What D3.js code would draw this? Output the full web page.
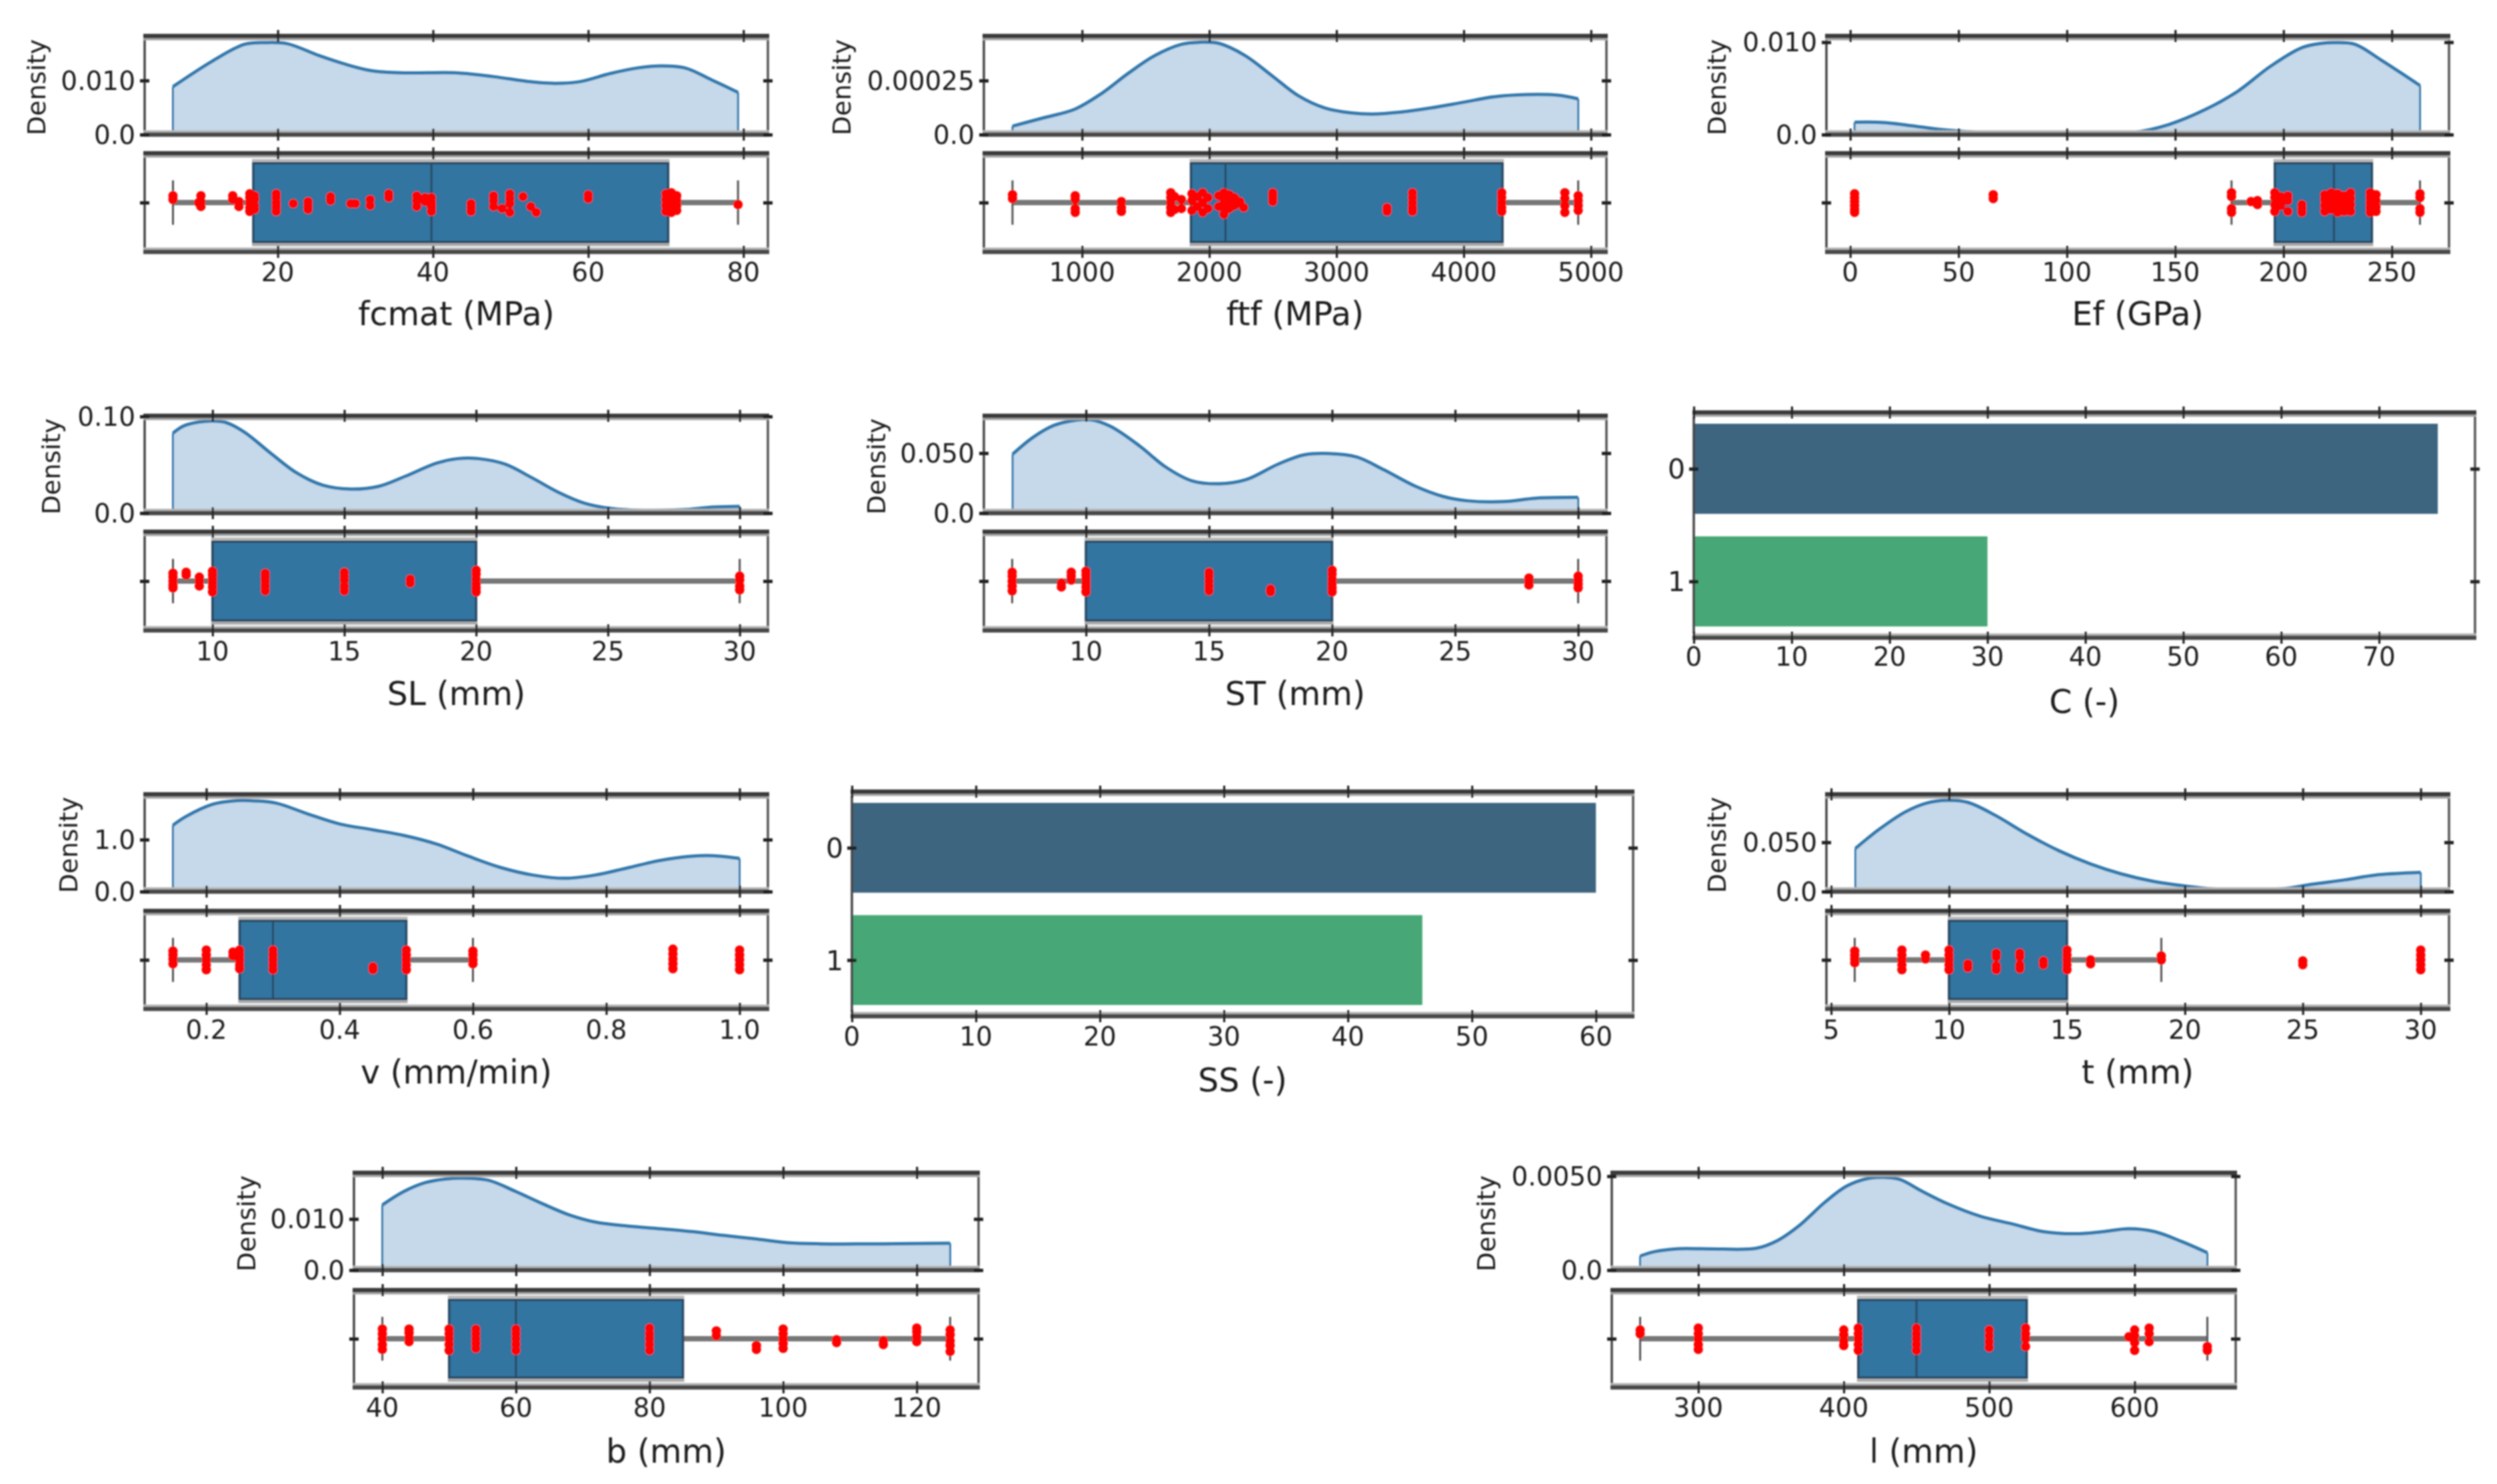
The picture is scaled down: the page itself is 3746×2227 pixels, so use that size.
<!DOCTYPE html>
<html>
<head>
<meta charset="utf-8">
<script src="https://cdn.jsdelivr.net/npm/d3@7"></script>
<style>
    body { margin: 0; background: #fff; }
    text { font-family: "DejaVu Sans", sans-serif; fill: #1f1f1f; }
</style>
</head>
<body>
<svg id="graph"></svg>
<script>
// fcmat
const fcmatKdeX = [6.5, 11.6, 15.7, 18.4, 21.2, 25.3, 28.7, 32.1, 36.2, 43.1, 47.8, 52.6, 55.4, 58.8, 62.9, 66.3, 69.4, 72.5, 75.9, 79.3];
const fcmatKdeY = [.00885, .0136, .01667, .0170, .0168, .0146, .0130, .0118, .0114, .0114, .0107, .00975, .00947, .00975, .0113, .0123, .0127, .0123, .0101, .0078];
const fcmatValues = [6.5, 6.5, 10.1, 10.1, 10.1, 9.8, 14.2, 14.2, 15, 15, 16.4, 16.4, 16.4, 16.4, 16.4, 17, 17, 17, 17, 19.8, 19.8, 19.8, 19.8, 19.8, 22, 23.9, 23.9, 23.9, 26.8, 26.8, 29.4, 30, 31.9, 31.9, 34.3, 34.3, 37.9, 37.9, 37.9, 39, 39, 39.8, 39.8, 39.8, 39.8, 44.9, 44.9, 44.9, 47.8, 47.8, 47.8, 48.9, 49.9, 49.9, 49.9, 49.9, 51.6, 52.6, 53.3, 60, 60, 70, 70, 70, 70, 70.7, 70.7, 70.7, 70.7, 70.7, 71.4, 71.4, 71.4, 71.4, 79.3];
const fcmatJitter = [-.07, -.03, -.07, -.01, .04, .0, -.07, -.03, -.01, .04, -.09, -.05, 0, .05, .09, -.07, -.03, .03, .07, -.09, -.05, 0, .04, .09, .01, -.01, .03, .07, -.06, -.02, .01, .01, -.03, .03, -.09, -.05, -.07, -.02, .04, -.05, -.01, -.05, 0, .04, .09, .01, .05, .09, -.07, -.02, .04, .06, -.09, -.04, .01, .1, -.06, .04, .1, -.08, -.04, -.09, -.03, .03, .09, -.1, -.05, 0, .05, .1, -.07, -.02, .03, .08, .02];
const fcmatBox = [6.5, 16.85, 39.8, 70.3, 79.3];
const fcmatXDomain = [2.85, 83.15];
const fcmatYDomain = [0, .01823];
const fcmatTicks = [20, 40, 60, 80];
const fcmatYTicks = [0, .01];
const fcmatYLabels = ["0.0", "0.010"];

// ftf
const ftfKdeX = [453, 695, 946, 1154, 1363, 1572, 1781, 1927, 2073, 2282, 2491, 2699, 2908, 3117, 3284, 3493, 3743, 3994, 4244, 4495, 4745, 4900];
const ftfKdeY = [.000039, .000077, .000118, .00019, .000283, .000365, .000417, .000427, .000422, .000365, .000273, .00018, .000123, .0001, .000095, .000103, .000123, .000149, .000175, .000185, .000182, .000165];
const ftfValues = [453, 453, 946, 946, 946, 946, 1309, 1309, 1309, 1697, 1697, 1697, 1697, 1697, 1727, 1727, 1781, 1781, 1864, 1864, 1864, 1906, 1906, 1948, 1948, 1948, 1990, 1990, 2073, 2073, 2115, 2115, 2115, 2115, 2157, 2157, 2157, 2198, 2198, 2240, 2270, 2499, 2499, 2499, 2499, 3397, 3397, 3597, 3597, 3597, 3597, 3597, 4298, 4298, 4298, 4298, 4298, 4795, 4795, 4795, 4795, 4900, 4900, 4900, 4900];
const ftfJitter = [-.08, -.04, -.07, -.03, .06, .1, -.01, .05, .09, -.1, -.05, 0, .05, .1, -.06, .07, -.03, .06, -.09, -.02, .08, -.06, .04, -.1, 0, .1, -.05, .06, -.07, .04, -.1, -.03, .05, .12, -.08, 0, .06, -.05, .03, -.01, .05, -.1, -.07, -.04, -.01, .05, .09, -.1, -.05, 0, .05, .09, -.1, -.05, 0, .05, .09, -.1, -.04, .03, .1, -.07, -.02, .03, .08];
const ftfBox = [453, 1856, 2127, 4305, 4900];
const ftfXDomain = [228, 5122];
const ftfYDomain = [0, .000456];
const ftfTicks = [1000, 2000, 3000, 4000, 5000];
const ftfYTicks = [0, .00025];
const ftfYLabels = ["0.0", "0.00025"];

// Ef
const efKdeX = [2, 15.4, 30, 44.7, 61.8, 86, 110.7, 130, 147, 164.5, 179, 193.8, 208.5, 218, 224.3, 233, 245, 263];
const efKdeY = [.00133, .0013, .0009, .00048, .0002, .00007, .00007, .0002, .00108, .00277, .0047, .00735, .0094, .00988, .00995, .00976, .00807, .0053];
const efValues = [2, 2, 2, 2, 2, 2, 66, 66, 176, 176, 176, 176, 185, 188, 188, 196, 196, 196, 196, 198.7, 198.7, 198.7, 202, 202, 202, 208.5, 208.5, 208.5, 219, 219, 219, 219, 222, 222, 222, 222, 225, 225, 225, 225, 228, 228, 228, 228, 231, 231, 231, 231, 240, 240, 240, 240, 240, 242.7, 242.7, 242.7, 242.7, 263, 263, 263, 263];
const efJitter = [-.09, -.05, -.01, .03, .07, .1, -.08, -.04, -.1, -.06, .06, .1, -.01, -.02, .02, -.1, -.05, .02, .09, -.06, -.02, .03, -.07, -.02, .09, .02, .06, .1, -.08, -.03, .03, .09, -.1, -.04, .02, .07, -.09, -.04, .03, .1, -.07, 0, .05, .09, -.1, -.04, .02, .09, -.1, -.05, 0, .05, .1, -.08, -.02, .04, .09, -.09, -.05, .06, .1];
const efBox = [176, 196, 223.3, 240.8, 263];
const efXDomain = [-11, 276.4];
const efYDomain = [0, .01067];
const efTicks = [0, 50, 100, 150, 200, 250];
const efYTicks = [0, .01];
const efYLabels = ["0.0", "0.010"];

// SL
const slKdeX = [8.5, 8.9, 9.5, 10, 10.5, 11.2, 12.2, 13.2, 14.2, 15.25, 16.3, 17.3, 18.5, 19.3, 20.1, 21.1, 22.1, 23.1, 24.1, 25.15, 26.2, 27.8, 29, 30];
const slKdeY = [.0828, .0901, .0943, .0954, .0938, .0839, .0621, .0414, .0287, .0248, .0276, .0379, .0517, .0563, .0563, .0506, .0368, .0218, .0103, .0046, .0028, .0034, .0062, .0069];
const slValues = [8.5, 8.5, 8.5, 8.5, 8.5, 9, 9, 9.5, 9.5, 9.5, 10, 10, 10, 10, 10, 10, 12, 12, 12, 12, 12, 15, 15, 15, 15, 15, 17.5, 17.5, 20, 20, 20, 20, 20, 20, 30, 30, 30, 30];
const slJitter = [-.08, -.04, 0, .04, .07, -.09, -.06, -.04, 0, .05, -.1, -.06, -.02, .02, .06, .11, -.08, -.04, 0, .05, .1, -.09, -.05, -.01, .05, .1, -.02, .02, -.11, -.07, -.02, .03, .07, .11, -.05, -.01, .05, .09];
const slBox = [8.5, 10, 10, 20, 30];
const slXDomain = [7.425, 31.07];
const slYDomain = [0, .1007];
const slTicks = [10, 15, 20, 25, 30];
const slYTicks = [0, .1];
const slYLabels = ["0.0", "0.10"];

// ST
const stKdeX = [7.02, 7.84, 8.7, 9.57, 10.2, 11, 12.2, 13.2, 14.3, 15.4, 16.5, 17.8, 18.85, 19.9, 21, 22.1, 23.4, 24.5, 25.5, 27, 28.3, 30];
const stKdeY = [.0491, .063, .0731, .0774, .0778, .0722, .0556, .0389, .0269, .0244, .0278, .0407, .0485, .0496, .0467, .0361, .0222, .0139, .0102, .0096, .0124, .013];
const stValues = [7, 7, 7, 7, 7, 9, 9, 9.4, 9.4, 9.4, 10, 10, 10, 10, 10, 10, 15, 15, 15, 15, 15, 17.5, 17.5, 20, 20, 20, 20, 20, 20, 28, 28, 28, 30, 30, 30, 30];
const stJitter = [-.09, -.05, 0, .05, .1, .02, .06, -.09, -.05, -.01, -.1, -.06, -.02, .02, .06, .11, -.09, -.05, 0, .05, .1, .08, .11, -.11, -.07, -.02, .03, .07, .11, -.03, 0, .04, -.05, -.01, .03, .07];
const stBox = [7, 10, 10, 20, 30];
const stXDomain = [5.85, 31.15];
const stYDomain = [0, .0811];
const stTicks = [10, 15, 20, 25, 30];
const stYTicks = [0, .05];
const stYLabels = ["0.0", "0.050"];

// C
const cCategories = ["0", "1"];
const cCounts = [76, 30];
const cXDomain = [0, 79.8];
const cTicks = [0, 10, 20, 30, 40, 50, 60, 70];

// v
const vKdeX = [.15, .17, .21, .24, .273, .305, .353, .40, .449, .497, .545, .593, .64, .689, .737, .784, .832, .88, .928, .96, 1.0];
const vKdeY = [1.277, 1.447, 1.68, 1.745, 1.745, 1.70, 1.49, 1.30, 1.19, 1.077, .915, .68, .468, .319, .255, .319, .455, .596, .68, .69, .638];
const vValues = [.15, .15, .15, .15, .2, .2, .2, .2, .2, .24, .24, .25, .25, .25, .25, .25, .3, .3, .3, .3, .3, .45, .45, .5, .5, .5, .5, .5, .6, .6, .6, .6, .9, .9, .9, .9, .9, 1, 1, 1, 1, 1];
const vJitter = [-.09, -.05, -.01, .04, -.1, -.05, 0, .05, .1, -.08, -.04, -.1, -.05, 0, .05, .09, -.1, -.05, 0, .05, .1, .07, .1, -.1, -.05, 0, .05, .1, -.09, -.05, 0, .04, -.11, -.06, -.01, .04, .09, -.1, -.05, 0, .05, .1];
const vBox = [.15, .25, .3, .5, .6];
const vXDomain = [.1075, 1.0425];
const vYDomain = [0, 1.872];
const vTicks = [.2, .4, .6, .8, 1];
const vYTicks = [0, 1];
const vYLabels = ["0.0", "1.0"];

// SS
const ssCategories = ["0", "1"];
const ssCounts = [60, 46];
const ssXDomain = [0, 63];
const ssTicks = [0, 10, 20, 30, 40, 50, 60];

// t
const tKdeX = [6.03, 7.02, 8.14, 9.04, 9.94, 10.8, 11.96, 13.3, 14.65, 16, 17.3, 18.7, 20, 21.4, 22.7, 24.1, 25.4, 26.8, 28.1, 30];
const tKdeY = [.0437, .0628, .0807, .0897, .0926, .0904, .0773, .0583, .0415, .028, .0179, .0101, .0056, .0022, .0016, .0027, .0074, .0119, .0168, .0195];
const tValues = [6, 6, 6, 6, 8, 8, 8, 8, 8, 9, 9, 10, 10, 10, 10, 10, 10.8, 10.8, 12, 12, 12, 12, 13, 13, 13, 13, 14, 14, 15, 15, 15, 15, 15, 16, 16, 19, 19, 25, 25, 30, 30, 30, 30, 30];
const tJitter = [-.09, -.05, -.01, .03, -.1, -.05, 0, .05, .1, -.05, -.01, -.1, -.05, 0, .05, .1, .04, .08, -.07, -.03, .06, .1, -.07, -.03, .05, .09, .01, .05, -.1, -.05, 0, .05, .1, 0, .04, -.04, 0, .01, .05, -.1, -.05, 0, .05, .1];
const tBox = [6, 10, 10, 15, 19];
const tXDomain = [4.8, 31.2];
const tYDomain = [0, .0987];
const tTicks = [5, 10, 15, 20, 25, 30];
const tYTicks = [0, .05];
const tYLabels = ["0.0", "0.050"];

// b
const bKdeX = [40, 43.2, 46.4, 49.6, 52.8, 56, 60, 64, 68, 72, 76.7, 81.5, 86.3, 91.1, 95.9, 100.7, 105.5, 115, 125];
const bKdeY = [.01274, .01535, .01709, .01783, .01796, .01752, .01535, .01296, .01078, .00935, .00861, .00809, .00752, .00678, .00609, .00535, .00513, .00513, .00526];
const bValues = [40, 40, 40, 40, 40, 44, 44, 44, 44, 50, 50, 50, 50, 50, 54, 54, 54, 54, 54, 60, 60, 60, 60, 60, 80, 80, 80, 80, 80, 90, 90, 96, 96, 100, 100, 100, 100, 100, 108, 108, 115, 115, 120, 120, 120, 120, 125, 125, 125, 125, 125];
const bJitter = [-.1, -.05, 0, .06, .11, -.1, -.06, -.01, .03, -.1, -.05, 0, .06, .12, -.1, -.05, 0, .05, .1, -.1, -.05, 0, .06, .12, -.11, -.05, 0, .06, .12, -.08, -.03, .07, .11, -.1, -.05, 0, .05, .1, .01, .04, .02, .06, -.11, -.07, -.02, .03, -.09, -.04, .02, .07, .13];
const bBox = [40, 50, 60, 85, 125];
const bXDomain = [35.75, 129.25];
const bYDomain = [0, .01904];
const bTicks = [40, 60, 80, 100, 120];
const bYTicks = [0, .01];
const bYLabels = ["0.0", "0.010"];

// l
const lKdeX = [260, 270, 285, 307, 340, 354.5, 369, 387.5, 402, 416.7, 427.7, 438.7, 453, 471.6, 493.6, 515.5, 537.5, 559.4, 577.7, 596, 614, 632.6, 650];
const lKdeY = [.000745, .00098, .00113, .00113, .00116, .00157, .00234, .00364, .00447, .00488, .00494, .00482, .00423, .00352, .00287, .00246, .00204, .00193, .00204, .0022, .00204, .00151, .00092];
const lValues = [260, 260, 300, 300, 300, 300, 300, 400, 400, 400, 400, 410, 410, 410, 410, 410, 450, 450, 450, 450, 450, 500, 500, 500, 500, 525, 525, 525, 525, 596, 600, 600, 600, 600, 610, 610, 610, 650, 650];
const lJitter = [-.09, -.05, -.11, -.05, 0, .06, .11, -.09, -.04, .02, .07, -.11, -.05, 0, .06, .12, -.11, -.05, 0, .06, .12, -.09, -.03, .03, .09, -.11, -.05, 0, .08, -.02, -.09, -.03, .04, .12, -.11, -.05, .03, .08, .12];
const lBox = [260, 410, 450, 525.8, 650];
const lXDomain = [240.5, 669.5];
const lYDomain = [0, .00518];
const lTicks = [300, 400, 500, 600];
const lYTicks = [0, .005];
const lYLabels = ["0.0", "0.0050"];

const svg = d3.select("#graph")
    .attr("width", 3746)
    .attr("height", 2227)
    .style("display", "block");

// the reference is a soft upscaled raster, a small blur keeps the strokes alike
svg.append("filter")
    .attr("id", "soft")
    .attr("filterUnits", "userSpaceOnUse")
    .attr("x", 0).attr("y", 0).attr("width", 3746).attr("height", 2227)
    .append("feGaussianBlur")
    .attr("stdDeviation", 1.1);

const root = svg.append("g").attr("filter", "url(#soft)");

// row tops: density panel, box panel, tick labels, x label
const rows = [
    { kdeTop: 54, kdeBottom: 202, boxTop: 230, boxBottom: 378, tickY: 408, labelY: 470 },
    { kdeTop: 624, kdeBottom: 770, boxTop: 798, boxBottom: 946, tickY: 977, labelY: 1040 },
    { kdeTop: 1192, kdeBottom: 1338, boxTop: 1367, boxBottom: 1514, tickY: 1545, labelY: 1608 },
    { kdeTop: 1760, kdeBottom: 1906, boxTop: 1936, boxBottom: 2082, tickY: 2112, labelY: 2177 }
];

const spine = (g, x1, y1, x2, y2, w, colour) => {
    g.append("line")
        .attr("x1", x1).attr("y1", y1).attr("x2", x2).attr("y2", y2)
        .attr("stroke", colour).attr("stroke-width", w);
};

// x ticks cross the spine, so both sides of the line are drawn
const xTicks = (g, x, y, ticks, orient) => {
    const axis = (orient === "top" ? d3.axisTop(x) : d3.axisBottom(x))
        .tickValues(ticks).tickSize(9).tickFormat("");
    const a = g.append("g").attr("transform", "translate(0," + y + ")").call(axis);
    a.select(".domain").remove();
    a.selectAll("line").attr("y1", -9).attr("y2", 9).attr("stroke", "#222").attr("stroke-width", 3.2);
};

const yTicks = (g, x, scale, ticks) => {
    const a = g.append("g").attr("transform", "translate(" + x + ",0)")
        .call(d3.axisLeft(scale).tickValues(ticks).tickSize(7).tickFormat(""));
    a.select(".domain").remove();
    a.selectAll("line").attr("x1", -7).attr("x2", 7).attr("stroke", "#222").attr("stroke-width", 5);
};

const frame = (g, left, right, top, bottom, x, ticks) => {
    spine(g, left, top, left, bottom, 3.5, "#444");
    spine(g, right, top, right, bottom, 3.5, "#555");
    spine(g, left - 2, top + 4, right + 2, top + 4, 5, "#a5a5a5");
    spine(g, left - 2, bottom - 4, right + 2, bottom - 4, 5, "#b5b5b5");
    spine(g, left - 2, top, right + 2, top, 6.5, "#3a3a3a");
    spine(g, left - 2, bottom, right + 2, bottom, 6.5, "#4a4a4a");
    xTicks(g, x, top, ticks, "top");
    xTicks(g, x, bottom, ticks, "bottom");
};

const tickLabels = (g, x, y, ticks, fmt) => {
    g.selectAll(null).data(ticks).enter().append("text")
        .attr("x", d => x(d))
        .attr("y", y)
        .attr("dy", "0.36em")
        .attr("text-anchor", "middle")
        .attr("font-size", 39)
        .text(fmt);
};

const xLabel = (g, x, y, t) => {
    g.append("text")
        .attr("x", x).attr("y", y).attr("dy", "0.36em")
        .attr("text-anchor", "middle")
        .attr("font-size", 49)
        .text(t);
};

const renderDist = p => {
    const r = rows[p.row];
    const g = root.append("g");
    const x = d3.scaleLinear().domain(p.xDomain).range([p.left, p.right]);
    const y = d3.scaleLinear().domain(p.yDomain).range([r.kdeBottom, r.kdeTop]);
    const points = p.kdeX.map((v, i) => [v, p.kdeY[i]]);

    // density panel
    g.append("path")
        .datum(points)
        .attr("fill", "#c5d9eb")
        .attr("d", d3.area().x(d => x(d[0])).y0(y(0)).y1(d => y(d[1])).curve(d3.curveCatmullRom));
    g.append("path")
        .datum(points)
        .attr("fill", "none")
        .attr("stroke", "#3079ad")
        .attr("stroke-width", 5)
        .attr("stroke-linejoin", "round")
        .attr("d", d3.line().x(d => x(d[0])).y(d => y(d[1])).curve(d3.curveCatmullRom));
    [points[0], points[points.length - 1]].forEach(d => {
        spine(g, x(d[0]), y(d[1]), x(d[0]), y(0), 3, "#3079ad");
    });
    frame(g, p.left, p.right, r.kdeTop, r.kdeBottom, x, p.ticks);
    yTicks(g, p.left, y, p.yTicks);
    yTicks(g, p.right, y, p.yTicks);

    g.selectAll(null).data(p.yTicks).enter().append("text")
        .attr("x", p.left - 14)
        .attr("y", d => y(d))
        .attr("dy", "0.36em")
        .attr("text-anchor", "end")
        .attr("font-size", 39)
        .text((d, i) => p.yLabels[i]);

    g.append("text")
        .attr("transform", "translate(" + p.densityX + "," + ((r.kdeTop + r.kdeBottom) / 2 + 3) + ") rotate(-90)")
        .attr("dy", "0.36em")
        .attr("text-anchor", "middle")
        .attr("font-size", 38)
        .text("Density");

    // box panel, y runs over one category band
    const by = d3.scaleLinear().domain([-.5, .5]).range([r.boxTop, r.boxBottom]);
    const [lo, q1, med, q3, hi] = p.box;

    spine(g, x(lo), by(0), x(q1), by(0), 8, "#777");
    spine(g, x(q3), by(0), x(hi), by(0), 8, "#777");
    [lo, hi].forEach(v => spine(g, x(v), by(-.225), x(v), by(.225), 3, "#555"));

    g.append("rect")
        .attr("x", x(q1)).attr("y", by(-.4))
        .attr("width", x(q3) - x(q1)).attr("height", by(.4) - by(-.4))
        .attr("fill", "#3274a1")
        .attr("stroke", "#2a4a62")
        .attr("stroke-width", 3.5);
    spine(g, x(q1) - 2, by(-.4) - 4, x(q3) + 2, by(-.4) - 4, 4, "#b5b5b5");
    spine(g, x(q1) - 2, by(.4) + 4, x(q3) + 2, by(.4) + 4, 4, "#a5a5a5");
    spine(g, x(med), by(-.4), x(med), by(.4), 3, "#2a4a62");

    g.selectAll("circle")
        .data(p.values)
        .enter()
        .append("circle")
        .attr("cx", d => x(d))
        .attr("cy", (d, i) => by(p.jitter[i]))
        .attr("r", 7)
        .attr("fill", "#ff0000");

    frame(g, p.left, p.right, r.boxTop, r.boxBottom, x, p.ticks);
    const centre = d3.scaleLinear().domain([0, 1]).range([by(0), by(1)]);
    yTicks(g, p.left, centre, [0]);
    yTicks(g, p.right, centre, [0]);

    tickLabels(g, x, r.tickY, p.ticks, p.fmt);
    xLabel(g, (p.left + p.right) / 2, r.labelY, p.label);
};

const renderCount = p => {
    const g = root.append("g");
    const x = d3.scaleLinear().domain(p.xDomain).range([p.left, p.right]);
    const y = d3.scaleBand().domain(p.categories).range([p.top, p.bottom]).paddingInner(.2).paddingOuter(.1);
    const colours = ["#3e6580", "#46a776"];

    g.selectAll("rect")
        .data(p.categories)
        .enter()
        .append("rect")
        .attr("x", x(0))
        .attr("y", d => y(d))
        .attr("width", (d, i) => x(p.counts[i]) - x(0))
        .attr("height", y.bandwidth())
        .attr("fill", (d, i) => colours[i]);

    frame(g, p.left, p.right, p.top, p.bottom, x, p.ticks);

    const centre = d3.scaleLinear().domain([0, 1]).range([y("0") + y.bandwidth() / 2, y("1") + y.bandwidth() / 2]);
    yTicks(g, p.left, centre, [0, 1]);
    yTicks(g, p.right, centre, [0, 1]);

    g.selectAll(null).data(p.categories).enter().append("text")
        .attr("x", p.left - 26)
        .attr("y", d => y(d) + y.bandwidth() / 2)
        .attr("dy", "0.36em")
        .attr("text-anchor", "middle")
        .attr("font-size", 41)
        .text(d => d);

    tickLabels(g, x, p.tickY, p.ticks, d => d);
    xLabel(g, (p.left + p.right) / 2, p.labelY, p.label);
};

renderDist({ row: 0, left: 217, right: 1152, densityX: 54, label: "fcmat (MPa)", kdeX: fcmatKdeX, kdeY: fcmatKdeY, values: fcmatValues, jitter: fcmatJitter, box: fcmatBox, xDomain: fcmatXDomain, yDomain: fcmatYDomain, ticks: fcmatTicks, yTicks: fcmatYTicks, yLabels: fcmatYLabels, fmt: d => d });
renderDist({ row: 0, left: 1476, right: 2410, densityX: 1262, label: "ftf (MPa)", kdeX: ftfKdeX, kdeY: ftfKdeY, values: ftfValues, jitter: ftfJitter, box: ftfBox, xDomain: ftfXDomain, yDomain: ftfYDomain, ticks: ftfTicks, yTicks: ftfYTicks, yLabels: ftfYLabels, fmt: d => d });
renderDist({ row: 0, left: 2740, right: 3674, densityX: 2575, label: "Ef (GPa)", kdeX: efKdeX, kdeY: efKdeY, values: efValues, jitter: efJitter, box: efBox, xDomain: efXDomain, yDomain: efYDomain, ticks: efTicks, yTicks: efYTicks, yLabels: efYLabels, fmt: d => d });
renderDist({ row: 1, left: 217, right: 1152, densityX: 76, label: "SL (mm)", kdeX: slKdeX, kdeY: slKdeY, values: slValues, jitter: slJitter, box: slBox, xDomain: slXDomain, yDomain: slYDomain, ticks: slTicks, yTicks: slYTicks, yLabels: slYLabels, fmt: d => d });
renderDist({ row: 1, left: 1476, right: 2410, densityX: 1314, label: "ST (mm)", kdeX: stKdeX, kdeY: stKdeY, values: stValues, jitter: stJitter, box: stBox, xDomain: stXDomain, yDomain: stYDomain, ticks: stTicks, yTicks: stYTicks, yLabels: stYLabels, fmt: d => d });
renderCount({ left: 2541, right: 3713, top: 619, bottom: 957, tickY: 985, labelY: 1052, label: "C (-)", categories: cCategories, counts: cCounts, xDomain: cXDomain, ticks: cTicks });
renderDist({ row: 2, left: 217, right: 1152, densityX: 102, label: "v (mm/min)", kdeX: vKdeX, kdeY: vKdeY, values: vValues, jitter: vJitter, box: vBox, xDomain: vXDomain, yDomain: vYDomain, ticks: vTicks, yTicks: vYTicks, yLabels: vYLabels, fmt: d => d.toFixed(1) });
renderCount({ left: 1278, right: 2450, top: 1188, bottom: 1525, tickY: 1555, labelY: 1620, label: "SS (-)", categories: ssCategories, counts: ssCounts, xDomain: ssXDomain, ticks: ssTicks });
renderDist({ row: 2, left: 2740, right: 3674, densityX: 2575, label: "t (mm)", kdeX: tKdeX, kdeY: tKdeY, values: tValues, jitter: tJitter, box: tBox, xDomain: tXDomain, yDomain: tYDomain, ticks: tTicks, yTicks: tYTicks, yLabels: tYLabels, fmt: d => d });
renderDist({ row: 3, left: 531, right: 1468, densityX: 369, label: "b (mm)", kdeX: bKdeX, kdeY: bKdeY, values: bValues, jitter: bJitter, box: bBox, xDomain: bXDomain, yDomain: bYDomain, ticks: bTicks, yTicks: bYTicks, yLabels: bYLabels, fmt: d => d });
renderDist({ row: 3, left: 2418, right: 3354, densityX: 2229, label: "l (mm)", kdeX: lKdeX, kdeY: lKdeY, values: lValues, jitter: lJitter, box: lBox, xDomain: lXDomain, yDomain: lYDomain, ticks: lTicks, yTicks: lYTicks, yLabels: lYLabels, fmt: d => d });
</script>
</body>
</html>
